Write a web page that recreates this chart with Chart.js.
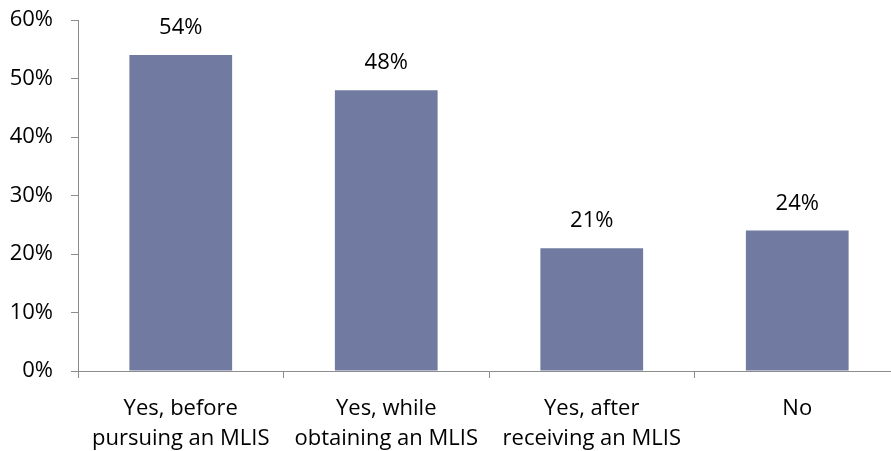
<!DOCTYPE html>
<html>
<head>
<meta charset="utf-8">
<script src="https://cdn.jsdelivr.net/npm/chart.js@4/dist/chart.umd.min.js"></script>
<style>
  html, body { margin: 0; padding: 0; background: #fff; overflow: hidden; }
  #wrap { width: 900px; height: 451px; }
</style>
</head>
<body>
<div id="wrap"><canvas id="c"></canvas></div>
<script>
// Survey answers and share of respondents (percent)
const categories = [
  ["Yes, before", "pursuing an MLIS"],
  ["Yes, while", "obtaining an MLIS"],
  ["Yes, after", "receiving an MLIS"],
  ["No"]
];
const shares = [54, 48, 21, 24];
const yTicks = [0, 10, 20, 30, 40, 50, 60];

const FONT = "'Open Sans', 'Liberation Sans', sans-serif";
const FONT_SIZE = 22;
const AXIS_COLOR = '#8c8c8c';

// Writes each bar's value above it
const valueLabels = {
  id: 'valueLabels',
  afterDatasetsDraw(chart) {
    const ctx = chart.ctx;
    const meta = chart.getDatasetMeta(0);
    ctx.save();
    ctx.font = FONT_SIZE + 'px ' + FONT;
    ctx.fillStyle = '#000';
    ctx.textAlign = 'center';
    ctx.textBaseline = 'middle';
    meta.data.forEach((bar, i) => {
      ctx.fillText(shares[i] + '%', bar.x, bar.y - 27);
    });
    ctx.restore();
  }
};

new Chart(document.getElementById('c'), {
  type: 'bar',
  data: {
    labels: categories,
    datasets: [{
      data: shares,
      backgroundColor: '#717ba1',
      borderWidth: 0,
      barPercentage: 0.5,
      categoryPercentage: 1.0
    }]
  },
  options: {
    responsive: true,
    maintainAspectRatio: false,
    animation: false,
    layout: { padding: { top: 20, left: 0, right: 0, bottom: 0 } },
    plugins: { legend: { display: false }, tooltip: { enabled: false } },
    scales: {
      x: {
        grid: {
          offset: true,
          drawOnChartArea: false,
          drawTicks: true,
          tickLength: 7,
          color: AXIS_COLOR
        },
        border: { color: AXIS_COLOR, width: 1 },
        ticks: {
          color: '#000',
          font: { family: FONT, size: FONT_SIZE, lineHeight: 1.36 },
          padding: 16,
          maxRotation: 0,
          autoSkip: false
        },
        afterFit(scale) { scale.height = 80; }
      },
      y: {
        min: 0,
        max: 60,
        afterBuildTicks(scale) { scale.ticks = yTicks.map(v => ({ value: v })); },
        grid: {
          drawOnChartArea: false,
          drawTicks: true,
          tickLength: 7,
          color: AXIS_COLOR
        },
        border: { color: AXIS_COLOR, width: 1 },
        ticks: {
          color: '#000',
          font: { family: FONT, size: FONT_SIZE },
          padding: 18,
          callback: v => v + '%'
        },
        afterFit(scale) {
          scale.width = 78;
          scale.paddingTop = 0;
          scale.paddingBottom = 0;
        }
      }
    }
  },
  plugins: [valueLabels]
});
</script>
</body>
</html>
